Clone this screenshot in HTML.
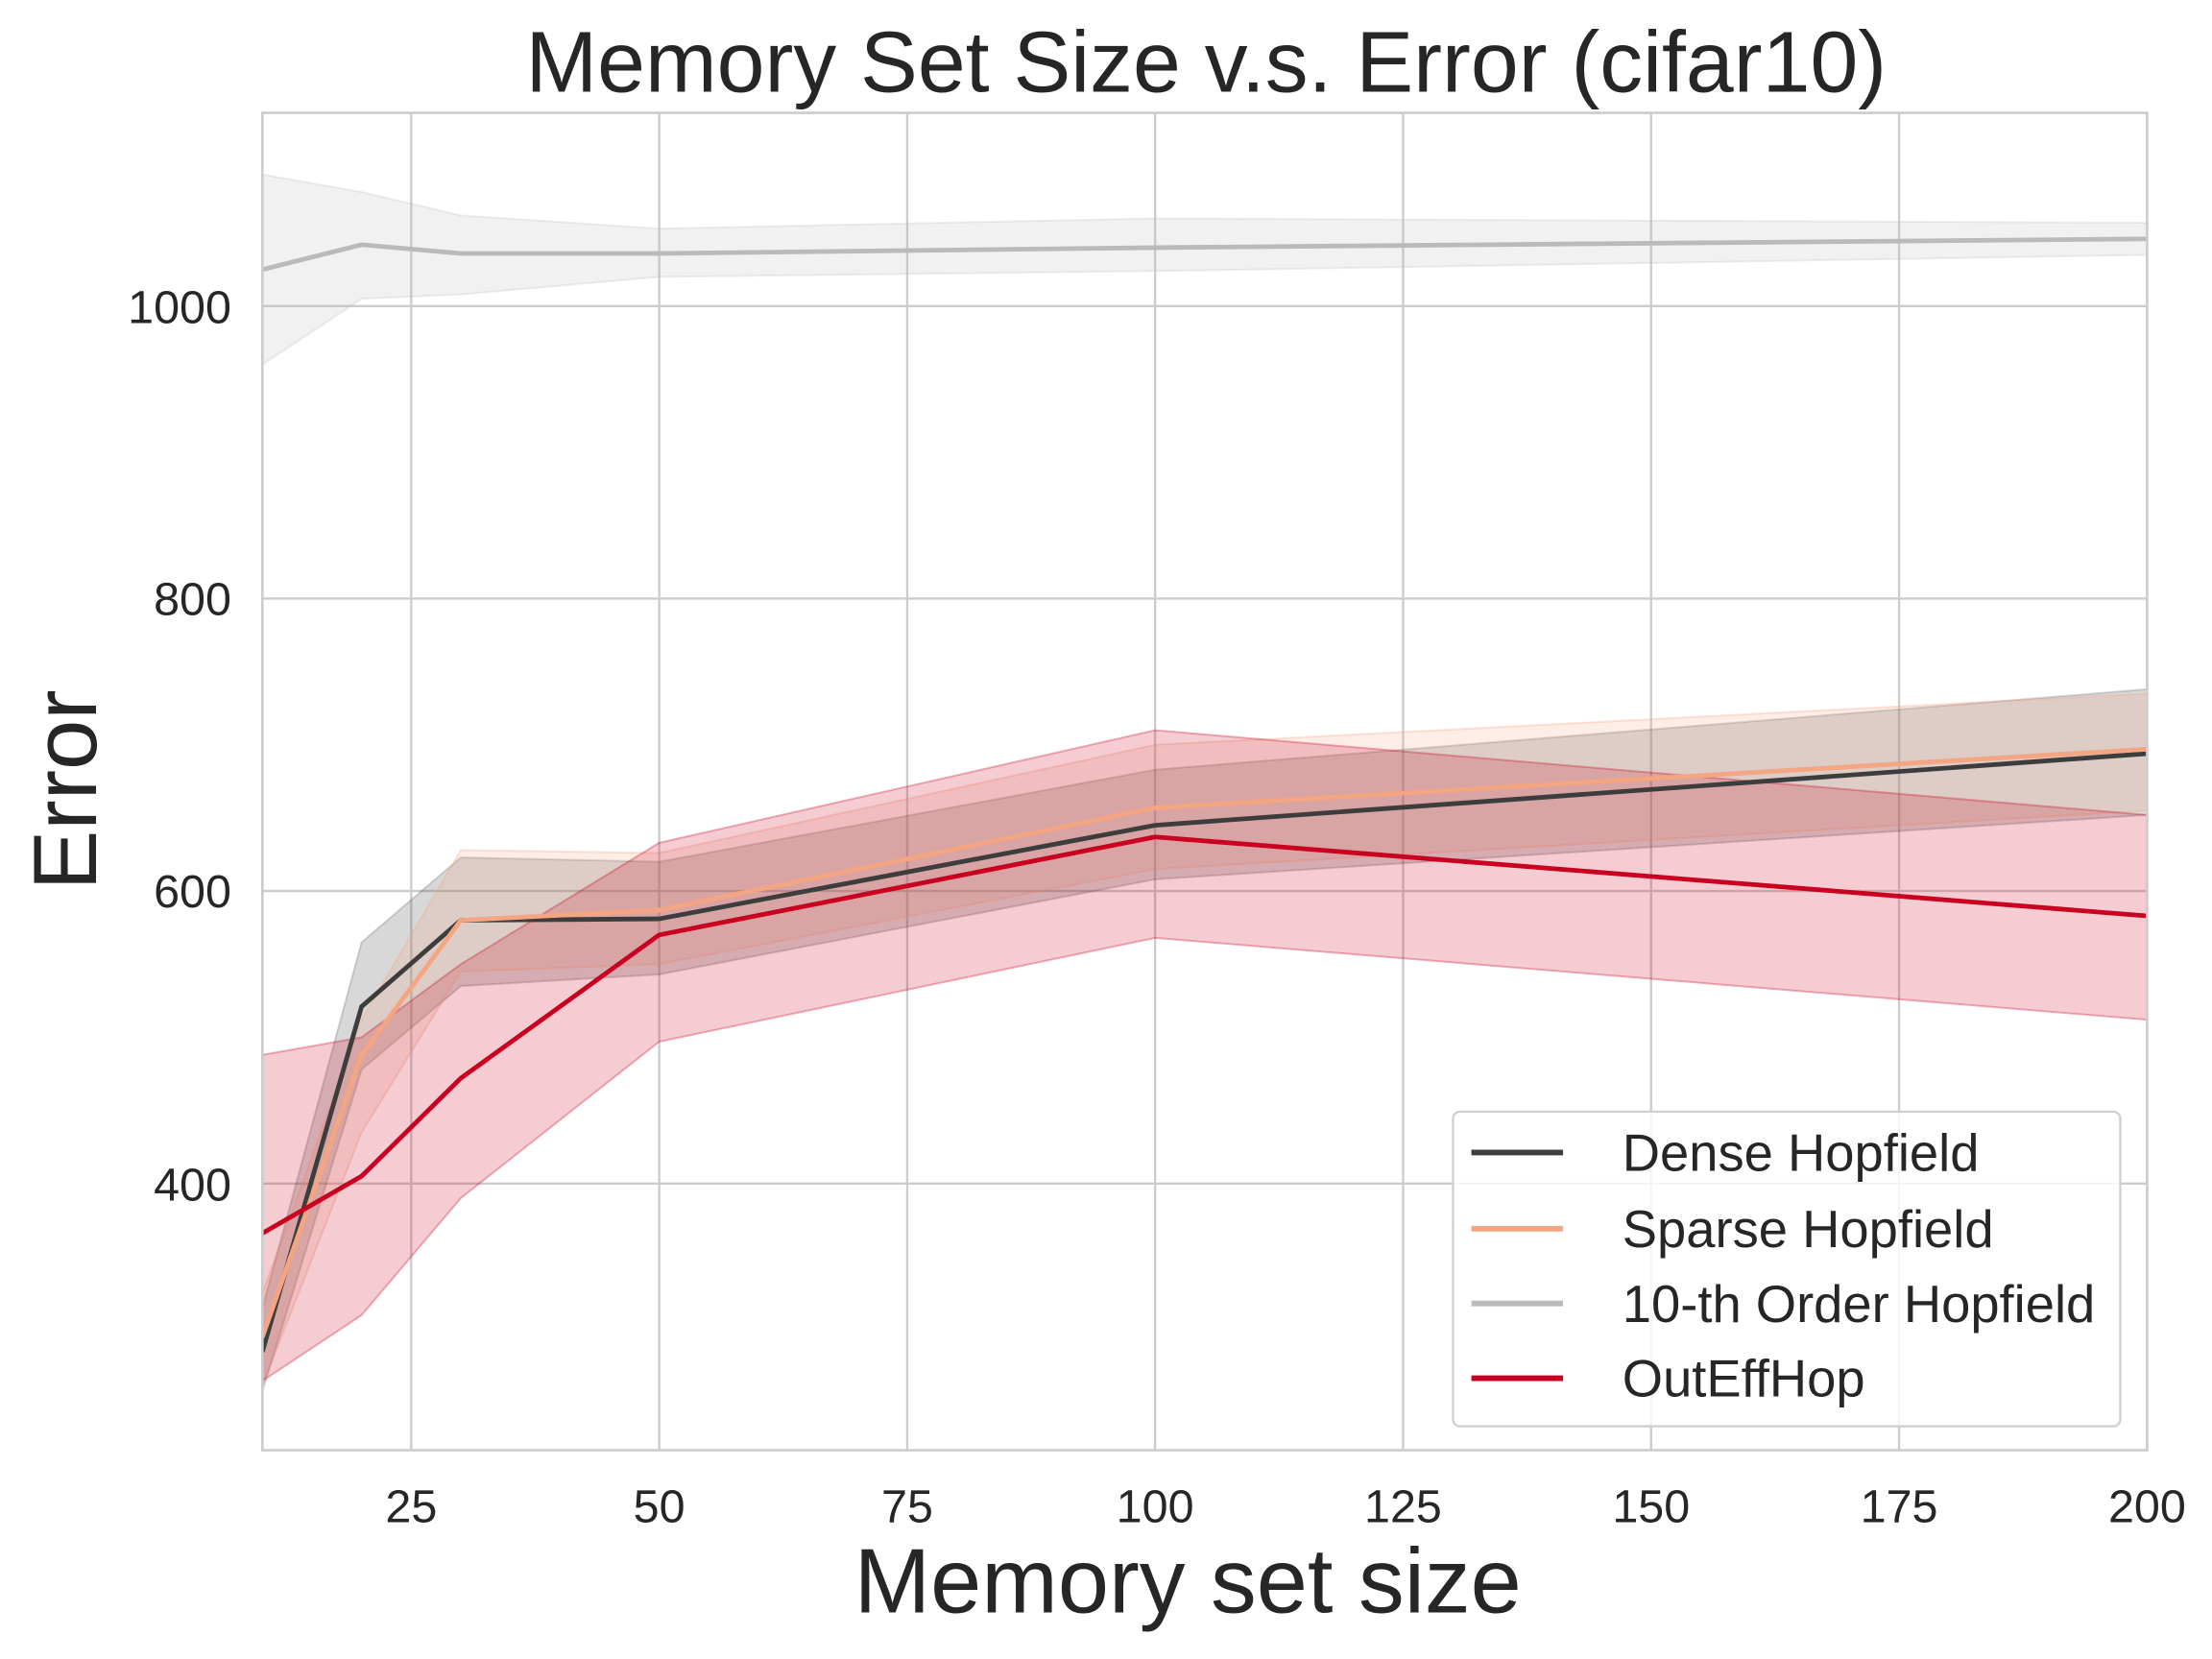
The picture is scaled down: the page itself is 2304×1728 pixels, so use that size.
<!DOCTYPE html>
<html><head><meta charset="utf-8"><style>
html,body{margin:0;padding:0;background:#fff;}
svg{display:block;}
text{font-family:"Liberation Sans",Arial,sans-serif;fill:#262626;}
</style></head><body>
<svg width="2304" height="1728" viewBox="0 0 1568 1176" xmlns="http://www.w3.org/2000/svg">
<rect width="1568" height="1176" fill="#fff"/>
<defs><clipPath id="c"><rect x="186" y="80" width="1336" height="948"/></clipPath></defs>
<g stroke="#cccccc" stroke-width="1.6">
<line x1="291.5" y1="80" x2="291.5" y2="1028"/>
<line x1="467.3" y1="80" x2="467.3" y2="1028"/>
<line x1="643.1" y1="80" x2="643.1" y2="1028"/>
<line x1="818.8" y1="80" x2="818.8" y2="1028"/>
<line x1="994.6" y1="80" x2="994.6" y2="1028"/>
<line x1="1170.4" y1="80" x2="1170.4" y2="1028"/>
<line x1="1346.2" y1="80" x2="1346.2" y2="1028"/>
<line x1="186" y1="217" x2="1522" y2="217"/>
<line x1="186" y1="424.3" x2="1522" y2="424.3"/>
<line x1="186" y1="631.6" x2="1522" y2="631.6"/>
<line x1="186" y1="839" x2="1522" y2="839"/>
</g>
<g clip-path="url(#c)">
<g transform="translate(186,217) scale(7.0316,-1.0366) translate(-10,-1000)">
<polygon fill="#bababa" fill-opacity="0.2" stroke="#bababa" stroke-opacity="0.25" vector-effect="non-scaling-stroke" stroke-width="2"
points="10,1090 20,1078 30,1062 50,1053 100,1060 200,1057 200,1035 100,1024 50,1020 30,1008 20,1005 10,960"/>
<polygon fill="#3d3d3d" fill-opacity="0.2" stroke="#3d3d3d" stroke-opacity="0.2" vector-effect="non-scaling-stroke" stroke-width="2"
points="10,315 20,565 30,623 50,620 100,683 200,738 200,652 100,608 50,543 30,535 20,478 10,258"/>
<polygon fill="#f4a582" fill-opacity="0.2" stroke="#f4a582" stroke-opacity="0.3" vector-effect="non-scaling-stroke" stroke-width="2"
points="10,325 20,512 30,628 50,626 100,700 200,735 200,655 100,615 50,550 30,545 20,435 10,262"/>
<polygon fill="#ca0020" fill-opacity="0.2" stroke="#ca0020" stroke-opacity="0.3" vector-effect="non-scaling-stroke" stroke-width="2"
points="10,488 20,500 30,550 50,633 100,710 200,652 200,512 100,568 50,497 30,390 20,310 10,265"/>
<polyline vector-effect="non-scaling-stroke" stroke="#bababa" stroke-width="4.8" stroke-linejoin="round" fill="none" points="10,1025 20,1042 30,1036 50,1036 100,1040 200,1046"/>
<polyline vector-effect="non-scaling-stroke" stroke="#3d3d3d" stroke-width="4.8" stroke-linejoin="round" fill="none" points="10,285 20,521 30,580 50,581 100,645 200,694"/>
<polyline vector-effect="non-scaling-stroke" stroke="#f4a582" stroke-width="4.8" stroke-linejoin="round" fill="none" points="10,295 20,488 30,580 50,587 100,657 200,697"/>
<polyline vector-effect="non-scaling-stroke" stroke="#ca0020" stroke-width="4.8" stroke-linejoin="round" fill="none" points="10,366 20,405 30,472 50,570 100,637 200,583"/>
</g>
</g>
<rect x="186" y="80" width="1336" height="948" fill="none" stroke="#cccccc" stroke-width="1.8"/>
<g font-size="33" text-anchor="middle">
<text x="291.5" y="1079">25</text><text x="467.3" y="1079">50</text><text x="643.1" y="1079">75</text>
<text x="818.8" y="1079">100</text><text x="994.6" y="1079">125</text><text x="1170.4" y="1079">150</text>
<text x="1346.2" y="1079">175</text><text x="1522" y="1079">200</text>
</g>
<g font-size="33" text-anchor="end">
<text x="164" y="229">1000</text><text x="164" y="436">800</text><text x="164" y="643">600</text><text x="164" y="851">400</text>
</g>
<text x="855" y="65" font-size="61" text-anchor="middle">Memory Set Size v.s. Error (cifar10)</text>
<text x="842" y="1143" font-size="65" text-anchor="middle">Memory set size</text>
<text transform="translate(68,560) rotate(-90)" font-size="64" text-anchor="middle">Error</text>
<rect x="1030" y="788" width="473" height="223" rx="5" fill="#fff" fill-opacity="0.8" stroke="#d0d0d0" stroke-width="1.6"/>
<g stroke-width="4">
<line x1="1043" y1="817" x2="1108" y2="817" stroke="#3d3d3d"/>
<line x1="1043" y1="871" x2="1108" y2="871" stroke="#f4a582"/>
<line x1="1043" y1="924" x2="1108" y2="924" stroke="#bababa"/>
<line x1="1043" y1="977" x2="1108" y2="977" stroke="#ca0020"/>
</g>
<g font-size="37">
<text x="1150" y="830">Dense Hopfield</text>
<text x="1150" y="884">Sparse Hopfield</text>
<text x="1150" y="937">10-th Order Hopfield</text>
<text x="1150" y="990">OutEffHop</text>
</g>
</svg>
</body></html>
